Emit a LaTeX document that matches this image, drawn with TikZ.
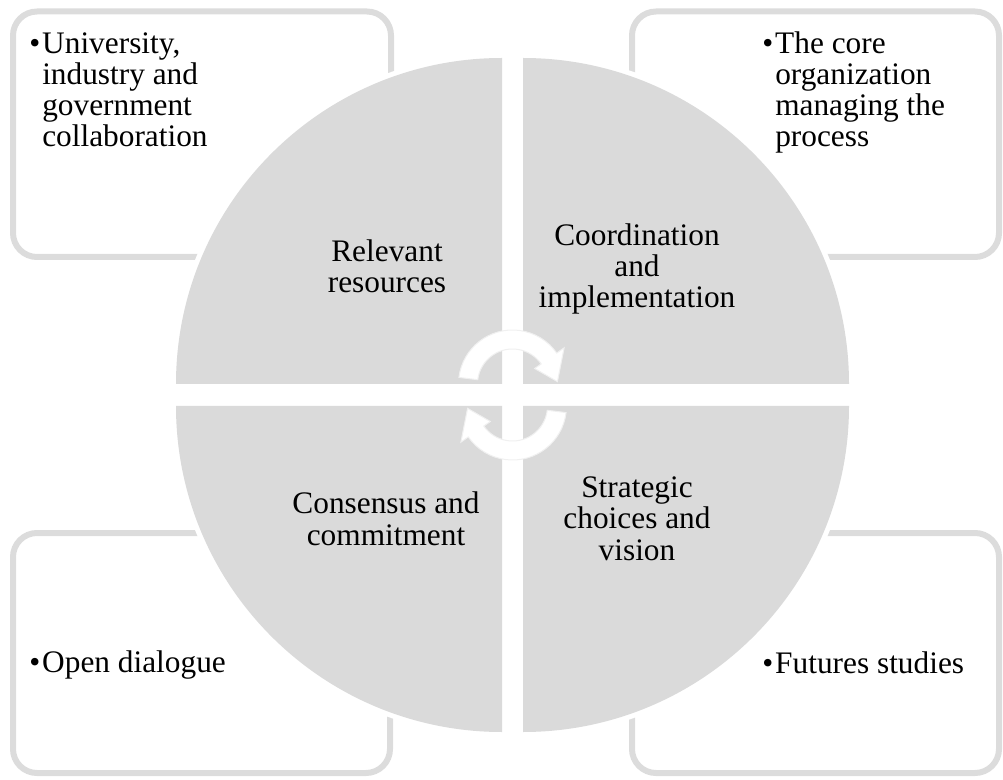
\documentclass[tikz,border=0pt]{standalone}
\usepackage{fontspec}
\setmainfont{Liberation Serif}
\usetikzlibrary{calc}
\definecolor{petal}{RGB}{218,218,218}
\definecolor{framegray}{RGB}{220,220,220}
\definecolor{arrowline}{RGB}{240,240,240}

\begin{document}
\begin{tikzpicture}[x=0.75pt,y=0.75pt,yscale=-1,xscale=1,
  frame/.style={draw=framegray, line width=4.5pt, rounded corners=18pt},
  halo/.style={draw=white, line width=7.5pt},
  cyc/.style={fill=white, draw=arrowline, line width=0.75pt},
  txt/.style={inner sep=0pt, text=black, font=\fontsize{23.5}{23.3}\selectfont}]
\useasboundingbox (0,0) rectangle (1003,780);

%Shape: Rounded Rect [id:tl] 
\draw [frame] (13,11.5) rectangle (391,257) ;
%Shape: Rounded Rect [id:tr] 
\draw [frame] (632,11.5) rectangle (999,257) ;
%Shape: Rounded Rect [id:bl] 
\draw [frame] (13,533) rectangle (390,773) ;
%Shape: Rounded Rect [id:br] 
\draw [frame] (632,533) rectangle (999,773) ;

%Shape: Quarter Circles 
\foreach \cx/\cy/\a in {502/384/180, 523/384/270, 523/406/0, 502/406/90}
  \draw [halo] (\cx,\cy) -- ++(\a:326) arc [start angle=\a, delta angle=90, radius=326] -- cycle ;
\foreach \cx/\cy/\a in {502/384/180, 523/384/270, 523/406/0, 502/406/90}
  \fill [petal] (\cx,\cy) -- ++(\a:326) arc [start angle=\a, delta angle=90, radius=326] -- cycle ;

%Shape: Circular Arrows 
\coordinate (up) at (512.5,384) ;
\coordinate (dn) at (512.5,406) ;
\draw [cyc] ($(up)+(187:54)$) arc [start angle=187, end angle=325, radius=54] -- ($(up)+(325:63)$) -- ($(up)+(357:45)$) -- ($(up)+(325:27)$) -- ($(up)+(325:35)$) arc [start angle=325, end angle=187, radius=35] -- cycle ;
\draw [cyc] ($(dn)+(7:54)$) arc [start angle=7, end angle=145, radius=54] -- ($(dn)+(145:63)$) -- ($(dn)+(177:45)$) -- ($(dn)+(145:27)$) -- ($(dn)+(145:35)$) arc [start angle=145, end angle=7, radius=35] -- cycle ;

% Text Node
\node [txt, anchor=base, align=center] (relres) at (387,293) {Relevant\\resources};
% Text Node
\node [txt, anchor=base, align=center] (coordimp) at (637,308) {Coordination\\and\\implementation};
% Text Node
\node [txt, anchor=base, align=center] (conscom) at (386,545) {Consensus and\\commitment};
% Text Node
\node [txt, anchor=base, align=center] (stratvis) at (637,560) {Strategic\\choices and\\vision};

% Text Node
\node [txt, anchor=base west, align=left] (uignote) at (42,147) {\llap{\textbullet\hspace{1.5pt}}University,\\industry and\\government\\collaboration};
% Text Node
\node [txt, anchor=base west, align=left] (corenote) at (775,147) {\llap{\textbullet\hspace{1.5pt}}The core\\organization\\managing the\\process};
% Text Node
\node [txt, anchor=base west, align=left] (opennote) at (42,672) {\llap{\textbullet\hspace{1.5pt}}Open dialogue};
% Text Node
\node [txt, anchor=base west, align=left] (futnote) at (775,673) {\llap{\textbullet\hspace{1.5pt}}Futures studies};

\end{tikzpicture}
\end{document}
